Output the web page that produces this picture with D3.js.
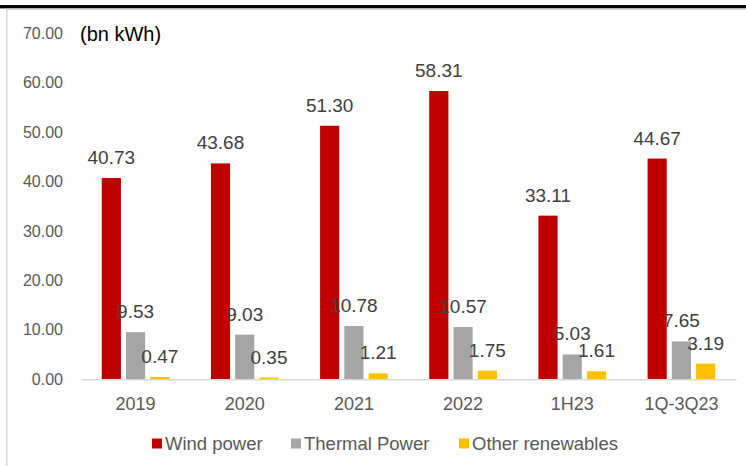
<!DOCTYPE html>
<html>
<head>
<meta charset="utf-8">
<script src="https://cdn.jsdelivr.net/npm/d3@7"></script>
<style>
  html, body { margin: 0; padding: 0; background: #fff; }
  svg { display: block; font-family: "Liberation Sans", Arial, sans-serif; }
</style>
</head>
<body>
<svg id="chart" width="746" height="466"></svg>
<script>
const categories = ["2019", "2020", "2021", "2022", "1H23", "1Q-3Q23"];
const seriesNames = ["Wind power", "Thermal Power", "Other renewables"];
const windPower = [40.73, 43.68, 51.30, 58.31, 33.11, 44.67];
const thermalPower = [9.53, 9.03, 10.78, 10.57, 5.03, 7.65];
const otherRenewables = [0.47, 0.35, 1.21, 1.75, 1.61, 3.19];
const yTicks = [0, 10, 20, 30, 40, 50, 60, 70];
const colors = ["#C00000", "#A5A5A5", "#FFC000"];
const unitLabel = "(bn kWh)";

const seriesValues = [windPower, thermalPower, otherRenewables];

const svg = d3.select("#chart");

// header rules and frame
svg.append("rect").attr("x", 0).attr("y", 5).attr("width", 746).attr("height", 3.4).attr("fill", "#000");
svg.append("rect").attr("x", 6).attr("y", 8.6).attr("width", 740).attr("height", 1.6).attr("fill", "#d9d9d9");
svg.append("rect").attr("x", 6).attr("y", 8.6).attr("width", 1.6).attr("height", 457.4).attr("fill", "#d9d9d9");

const plotLeft = 81, plotRight = 736;
const y = d3.scaleLinear().domain([0, 70]).range([379.3, 33.3]);
const x0 = d3.scaleBand().domain(categories).range([plotLeft, plotRight])
  .paddingInner(0.38).paddingOuter(0.19);
const x1 = d3.scaleBand().domain(seriesNames).range([0, x0.bandwidth()]).paddingInner(0.21);

// y axis labels
const yAxis = d3.axisLeft(y).tickValues(yTicks).tickFormat(d3.format(".2f")).tickSize(0).tickPadding(0);
const yg = svg.append("g").attr("transform", "translate(63,0)").call(yAxis);
yg.select(".domain").remove();
yg.selectAll("text").attr("font-size", 16).attr("fill", "#595959")
  .attr("font-family", "'Liberation Sans', Arial, sans-serif");

// unit label
svg.append("text").attr("x", 80).attr("y", 40.5)
  .attr("font-size", 20).attr("fill", "#000").text(unitLabel);

// bars
const groups = svg.append("g").selectAll("g")
  .data(categories).join("g")
  .attr("transform", d => `translate(${x0(d)},0)`);

groups.selectAll("rect")
  .data((c, i) => seriesNames.map((s, j) => ({ s, j, v: seriesValues[j][i] })))
  .join("rect")
  .attr("x", d => x1(d.s))
  .attr("width", x1.bandwidth())
  .attr("y", d => y(d.v))
  .attr("height", d => y(0) - y(d.v))
  .attr("fill", d => colors[d.j]);

// baseline and category labels
const xAxis = d3.axisBottom(x0).tickSize(0).tickPadding(0);
const xg = svg.append("g").attr("transform", `translate(0,${y(0)})`).call(xAxis);
xg.select(".domain").attr("stroke", "#d9d9d9").attr("stroke-width", 1.6);
xg.selectAll("text").attr("font-size", 18).attr("fill", "#595959")
  .attr("dy", 0).attr("y", 31)
  .attr("font-family", "'Liberation Sans', Arial, sans-serif");

// data labels on top
const labelLayer = svg.append("g");
categories.forEach((c, i) => {
  seriesNames.forEach((s, j) => {
    const v = seriesValues[j][i];
    labelLayer.append("text")
      .attr("x", x0(c) + x1(s) + x1.bandwidth() / 2)
      .attr("y", y(v) - 14)
      .attr("text-anchor", "middle")
      .attr("font-size", 19).attr("fill", "#404040")
      .text(v.toFixed(2));
  });
});

// legend
const legendItems = [
  { name: seriesNames[0], x: 152 },
  { name: seriesNames[1], x: 291 },
  { name: seriesNames[2], x: 459 }
];
const lg = svg.append("g");
legendItems.forEach((d, j) => {
  lg.append("rect").attr("x", d.x).attr("y", 438.5).attr("width", 10).attr("height", 10).attr("fill", colors[j]);
  lg.append("text").attr("x", d.x + 13).attr("y", 450).attr("font-size", 18.5).attr("fill", "#595959").text(d.name);
});
</script>
</body>
</html>
